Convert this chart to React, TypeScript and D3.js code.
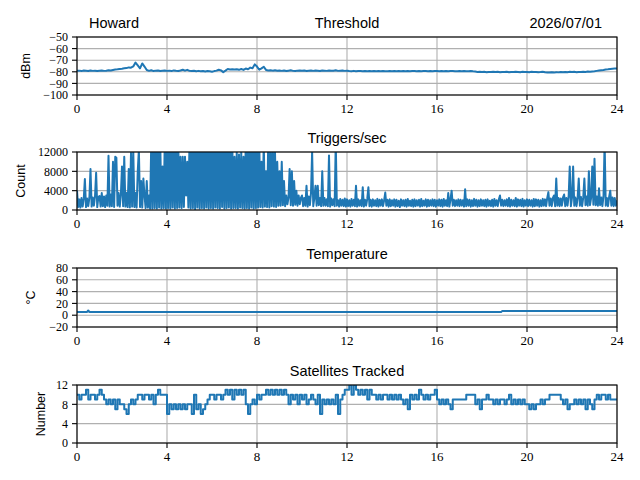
import React from 'react';
import * as d3 from 'd3';

// ---------- data ----------
const xTicks = [0, 4, 8, 12, 16, 20, 24];
const thresholdTicks = [-100, -90, -80, -70, -60, -50];
const triggerTicks = [0, 4000, 8000, 12000];
const tempTicks = [-20, 0, 20, 40, 60, 80];
const satTicks = [0, 4, 8, 12];

const SAMPLE_STEP = 0.1; // hours between threshold / satellite samples
const TRIGGER_STEP = 0.05; // hours between trigger samples

const thresholdValues = [
  -79.2, -79.0, -79.4, -78.9, -79.1, -79.3, -78.8, -79.2, -79.0, -79.3,
  -79.1, -78.9, -79.2, -79.0, -78.7, -78.9, -78.4, -78.0, -77.8, -77.5,
  -77.3, -77.0, -76.8, -76.2, -76.5, -75.4, -72.0, -74.5, -77.0, -72.8,
  -75.5, -78.5, -79.2, -78.6, -79.4, -79.0, -78.8, -79.3, -79.1, -78.9,
  -79.2, -79.0, -79.4, -78.8, -79.1, -79.3, -78.9, -78.2, -79.0, -78.3,
  -79.2, -79.4, -79.1, -79.5, -79.2, -79.6, -79.3, -79.8, -79.4, -79.6,
  -79.9, -79.4, -79.0, -78.2, -78.8, -80.3, -79.0, -77.6, -78.0, -77.8,
  -78.0, -77.8, -78.3, -77.6, -78.4, -77.2, -77.8, -76.4, -77.0, -73.6,
  -75.5, -78.2, -77.0, -75.6, -78.4, -78.8, -78.6, -79.0, -78.7, -79.1,
  -78.9, -79.2, -78.8, -79.3, -79.0, -78.7, -79.2, -79.4, -79.0, -78.8,
  -79.1, -78.9, -79.3, -79.0, -78.8, -79.2, -78.9, -79.1, -79.3, -78.8,
  -79.0, -79.2, -78.9, -79.1, -79.0, -78.7, -79.2, -79.0, -78.9, -79.2,
  -79.0, -79.3, -79.5, -79.2, -79.6, -79.3, -79.4, -79.6, -79.3, -79.5,
  -79.4, -79.6, -79.3, -79.5, -79.4, -79.6, -79.3, -79.5, -79.6, -79.4,
  -79.5, -79.3, -79.6, -79.4, -79.5, -79.3, -79.6, -79.4, -79.5, -79.3,
  -79.4, -79.6, -79.3, -79.5, -79.4, -79.3, -79.5, -79.4, -79.6, -79.3,
  -79.4, -79.5, -79.3, -79.6, -79.4, -79.5, -79.3, -79.4, -79.6, -79.5,
  -79.3, -79.5, -79.4, -79.6, -79.5, -79.3, -79.6, -79.8, -80.1, -80.0,
  -80.2, -80.0, -80.3, -80.1, -80.2, -79.9, -80.2, -80.0, -80.3, -80.1,
  -80.2, -80.0, -80.3, -80.1, -80.2, -80.0, -80.1, -80.3, -80.0, -80.2,
  -80.1, -80.3, -80.0, -80.2, -80.1, -80.3, -80.2, -80.0, -80.4, -80.5,
  -80.6, -80.4, -80.7, -80.3, -80.5, -80.2, -80.4, -80.1, -80.3, -80.0,
  -80.2, -80.0, -80.3, -80.1, -80.2, -79.9, -80.1, -79.8, -80.0, -79.7,
  -79.5, -79.2, -78.9, -78.6, -78.4, -78.0, -77.8, -77.5, -77.3, -77.2,
  -77.1,
];

const triggerValues = [
  4000, 600, 2200, 500, 2500, 700, 2300, 6400, 600, 2400, 800, 2500, 8500, 700, 2600, 900, 2800, 7700, 600, 2700,
  2900, 700, 3500, 800, 2800, 600, 3000, 900, 11200, 700, 3200, 800, 10000, 600, 11000, 10800, 900, 3500, 700, 3200,
  9000, 800, 11000, 700, 3500, 600, 8500, 500, 11800, 700, 12500, 600, 3500, 500, 8000, 12500, 600, 6000, 500, 6500,
  3000, 400, 6000, 500, 3000, 300, 14000, 300, 14000, 400, 13000, 300, 14000, 500, 14000, 300, 9000, 400, 14000, 300,
  14000, 400, 14000, 300, 14000, 500, 14000, 300, 14000, 400, 14000, 500, 11000, 400, 11000, 600, 11000, 3000, 10000, 500,
  14000, 300, 14000, 400, 14000, 200, 14000, 500, 14000, 300, 14000, 400, 14000, 300, 14000, 500, 14000, 300, 14000, 400,
  14000, 300, 14000, 500, 14000, 400, 14000, 300, 14000, 600, 14000, 300, 14000, 400, 14000, 500, 14000, 300, 14000, 400,
  11000, 400, 12000, 300, 11500, 500, 12000, 400, 11000, 300, 14000, 400, 14000, 300, 14000, 500, 14000, 300, 14000, 400,
  14000, 500, 14000, 600, 10000, 500, 14000, 700, 8000, 600, 14000, 500, 12000, 800, 14000, 700, 12000, 600, 10000, 900,
  8000, 900, 10000, 1000, 6000, 800, 3000, 1200, 2500, 8500, 1000, 8000, 900, 6000, 1100, 4000, 900, 3000, 1200, 2500,
  3000, 800, 2500, 900, 5000, 700, 2800, 1000, 3500, 12000, 800, 2500, 5000, 900, 5000, 1000, 2500, 800, 8000, 900,
  2500, 900, 2200, 800, 11300, 700, 2400, 1000, 2200, 800, 14000, 900, 2000, 700, 2300, 900, 2100, 800, 2400, 700,
  2200, 800, 2000, 700, 2300, 900, 2100, 800, 5000, 700, 2200, 900, 2000, 800, 4700, 700, 2100, 900, 2300, 4700,
  800, 2100, 700, 2200, 900, 2000, 800, 2300, 700, 2100, 900, 2200, 800, 2000, 3600, 900, 2100, 700, 2200, 800,
  2000, 900, 2200, 700, 2100, 800, 1900, 600, 2200, 900, 2000, 800, 2100, 700, 2300, 900, 1900, 800, 2100, 700,
  2200, 800, 2000, 900, 2100, 700, 2300, 800, 1900, 900, 2200, 700, 2100, 800, 2000, 900, 2200, 800, 2100, 700,
  2000, 900, 2200, 800, 2100, 700, 2300, 900, 2000, 800, 3500, 700, 2200, 4000, 900, 2100, 800, 2000, 900, 2200,
  800, 2100, 900, 2000, 700, 4300, 800, 2200, 900, 2100, 700, 2000, 800, 2300, 900, 2100, 700, 2000, 800, 2200,
  900, 2000, 800, 2100, 700, 2200, 900, 1900, 800, 2100, 700, 2300, 900, 2000, 800, 2200, 3000, 900, 2100, 800,
  2000, 900, 2200, 800, 2500, 700, 2100, 900, 2000, 800, 2500, 700, 2200, 900, 2100, 800, 2300, 700, 2000, 900,
  2200, 800, 2100, 900, 2000, 700, 2300, 800, 2200, 900, 2100, 700, 2000, 800, 2300, 900, 2200, 800, 2500, 3700,
  900, 2400, 800, 2500, 3000, 800, 6500, 900, 2500, 800, 2400, 900, 2600, 3200, 800, 2500, 900, 2700, 9000, 800,
  2500, 9000, 900, 2600, 800, 2500, 6500, 900, 2700, 800, 2600, 6500, 1000, 2800, 900, 8000, 1000, 2500, 9000, 1100,
  10600, 1000, 2800, 900, 4500, 1000, 2600, 800, 2800, 14000, 900, 2500, 800, 2700, 4000, 900, 2600, 800, 2500, 900,
  2000,
];

const satValues = [
  10, 9, 10, 10, 11, 9, 10, 10, 9, 10,
  11, 10, 9, 8, 9, 8, 9, 7, 9, 8,
  8, 7, 6, 8, 9, 8, 9, 10, 10, 9,
  10, 10, 9, 10, 8, 10, 11, 10, 10, 10,
  6, 8, 7, 8, 7, 8, 7, 8, 7, 8,
  8, 6, 10, 7, 8, 6, 7, 8, 9, 10,
  10, 9, 10, 10, 9, 10, 11, 10, 11, 9,
  11, 10, 11, 10, 11, 8, 6, 8, 9, 8,
  10, 9, 10, 10, 11, 10, 11, 10, 11, 10,
  11, 10, 11, 10, 8, 10, 9, 10, 8, 10,
  9, 10, 8, 9, 10, 9, 8, 10, 6, 9,
  8, 9, 8, 9, 8, 10, 6, 9, 10, 11,
  11, 12, 10, 12, 11, 10, 11, 10, 11, 9,
  11, 10, 10, 9, 10, 9, 10, 10, 9, 10,
  9, 10, 9, 10, 9, 8, 9, 7, 10, 9,
  10, 9, 11, 10, 9, 10, 9, 10, 10, 11,
  9, 8, 9, 8, 9, 8, 7, 9, 9, 9,
  9, 9, 9, 10, 10, 10, 10, 8, 9, 7,
  9, 9, 10, 9, 9, 8, 9, 8, 9, 9,
  8, 9, 10, 8, 9, 8, 9, 8, 9, 8,
  8, 7, 8, 7, 8, 8, 9, 8, 9, 9,
  10, 10, 10, 10, 10, 9, 8, 9, 7, 8,
  8, 9, 8, 9, 8, 9, 7, 9, 8, 7,
  9, 10, 9, 10, 10, 9, 10, 9, 9, 9,
  9,
];

const tempHours = [0, 0.45, 0.5, 0.55, 18.85, 18.9, 24];
const tempValues = [5.5, 5.5, 8, 5.5, 5.5, 7, 7];

// ---------- layout ----------
const LEFT = 77;
const RIGHT = 617;
const BLUE = '#1f77b4';
const GRID = '#b0b0b0';
const TICK_FONT = "'Liberation Serif', 'DejaVu Serif', serif";
const SANS = "'Liberation Sans', Arial, sans-serif";
const TICK_SIZE = 12;

const x = d3.scaleLinear().domain([0, 24]).range([LEFT, RIGHT]);

type PanelProps = {
  id: string;
  top: number;
  bottom: number;
  domain: [number, number];
  yTicks: number[];
  hours: number[];
  values: number[];
  ylabel: string;
  ylabelX: number;
  title?: string;
  curve?: d3.CurveFactory;
  lineWidth?: number;
};

function Panel(p: PanelProps) {
  const y = d3.scaleLinear().domain(p.domain).range([p.bottom, p.top]);
  const fmt = d3.format('d');
  const line = d3
    .line<number>()
    .x((_, i) => x(p.hours[i]))
    .y((v) => y(v))
    .curve(p.curve || d3.curveLinear);
  const mid = (p.top + p.bottom) / 2;
  return (
    <g>
      <defs>
        <clipPath id={p.id}>
          <rect x={LEFT} y={p.top} width={RIGHT - LEFT} height={p.bottom - p.top} />
        </clipPath>
      </defs>
      {xTicks.map((t) => (
        <line key={'gx' + t} x1={x(t)} x2={x(t)} y1={p.top} y2={p.bottom} stroke={GRID} strokeWidth={1.1} />
      ))}
      {p.yTicks.map((t) => (
        <line key={'gy' + t} x1={LEFT} x2={RIGHT} y1={y(t)} y2={y(t)} stroke={GRID} strokeWidth={1.1} />
      ))}
      <path
        d={line(p.values) || ''}
        fill="none"
        stroke={BLUE}
        strokeWidth={p.lineWidth || 2}
        strokeLinejoin="round"
        clipPath={`url(#${p.id})`}
      />
      <rect x={LEFT} y={p.top} width={RIGHT - LEFT} height={p.bottom - p.top} fill="none" stroke="#000" strokeWidth={1.1} />
      {xTicks.map((t) => (
        <g key={'tx' + t}>
          <line x1={x(t)} x2={x(t)} y1={p.bottom} y2={p.bottom + 5} stroke="#000" strokeWidth={1.1} />
          <text x={x(t)} y={p.bottom + 18} textAnchor="middle" fontFamily={TICK_FONT} fontSize={13}>
            {fmt(t)}
          </text>
        </g>
      ))}
      {p.yTicks.map((t) => (
        <g key={'ty' + t}>
          <line x1={LEFT - 5} x2={LEFT} y1={y(t)} y2={y(t)} stroke="#000" strokeWidth={1.1} />
          <text x={LEFT - 9} y={y(t) + 4.2} textAnchor="end" fontFamily={TICK_FONT} fontSize={TICK_SIZE}>
            {fmt(t)}
          </text>
        </g>
      ))}
      <text
        transform={`translate(${p.ylabelX},${mid}) rotate(-90)`}
        textAnchor="middle"
        fontFamily={SANS}
        fontSize={12.5}
      >
        {p.ylabel}
      </text>
      {p.title && (
        <text x={(LEFT + RIGHT) / 2} y={p.top - 9} textAnchor="middle" fontFamily={SANS} fontSize={14.5}>
          {p.title}
        </text>
      )}
    </g>
  );
}

export default function App() {
  const sampleHours = thresholdValues.map((_, i) => i * SAMPLE_STEP);
  return (
    <svg
      width={640}
      height={480}
      style={{ position: 'absolute', left: 0, top: 0, background: '#fff' }}
    >
      <rect width={640} height={480} fill="#fff" />
      <text x={89} y={28} fontFamily={SANS} fontSize={14.5}>Howard</text>
      <text x={347} y={28} textAnchor="middle" fontFamily={SANS} fontSize={14.5}>Threshold</text>
      <text x={602} y={28} textAnchor="end" fontFamily={SANS} fontSize={14.5}>2026/07/01</text>
      <Panel
        id="c1"
        top={37}
        bottom={95}
        domain={[-100, -50]}
        yTicks={thresholdTicks}
        hours={sampleHours}
        values={thresholdValues}
        ylabel="dBm"
        ylabelX={30}
      />
      <Panel
        id="c2"
        top={152}
        bottom={210}
        domain={[0, 12000]}
        yTicks={triggerTicks}
        hours={triggerValues.map((_, i) => i * TRIGGER_STEP)}
        values={triggerValues}
        ylabel="Count"
        ylabelX={25}
        title="Triggers/sec"
      />
      <Panel
        id="c3"
        top={268}
        bottom={327}
        domain={[-20, 80]}
        yTicks={tempTicks}
        hours={tempHours}
        values={tempValues}
        ylabel="°C"
        ylabelX={35}
        title="Temperature"
      />
      <Panel
        id="c4"
        top={385}
        bottom={443}
        domain={[0, 12]}
        yTicks={satTicks}
        hours={satValues.map((_, i) => i * SAMPLE_STEP)}
        values={satValues}
        ylabel="Number"
        ylabelX={45}
        title="Satellites Tracked"
        curve={d3.curveStepAfter}
      />
    </svg>
  );
}
